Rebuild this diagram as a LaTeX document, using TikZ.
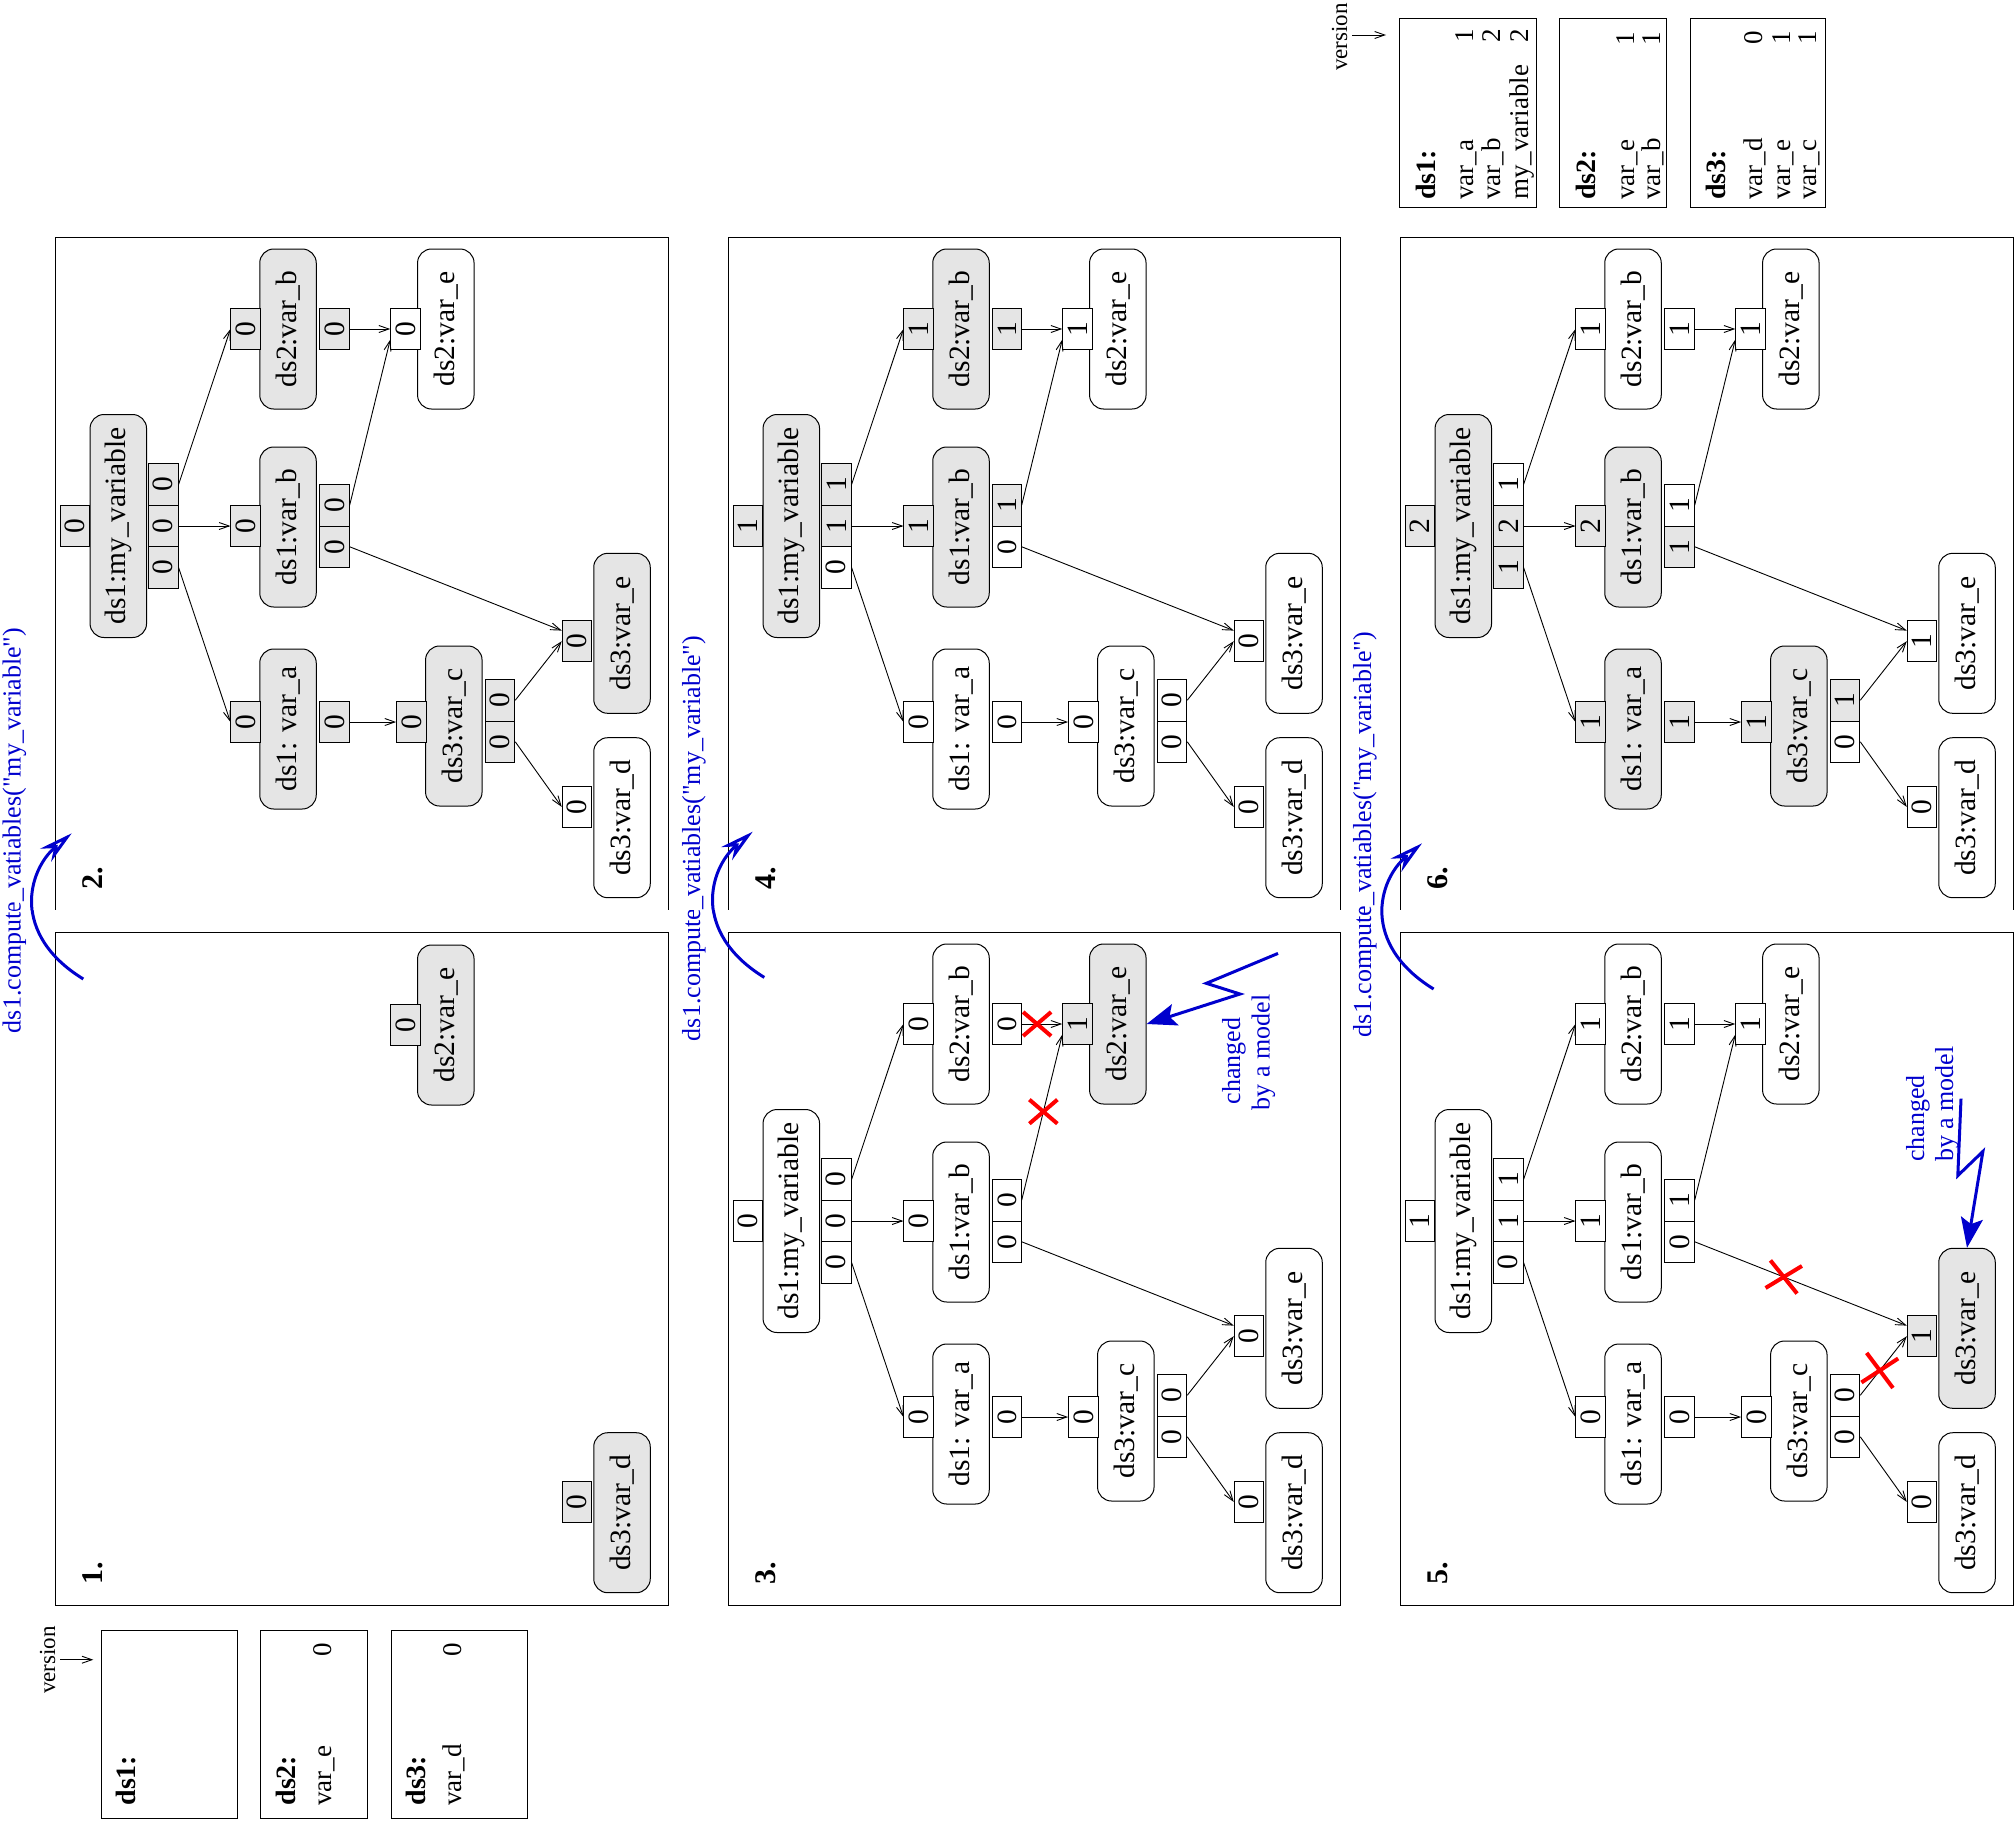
\documentclass[tikz,border=0pt]{standalone}
\usepackage{fontspec}
\setmainfont[Ligatures=TeXOff]{Liberation Serif}
\usepackage{graphicx}
\usetikzlibrary{arrows.meta,calc,shapes.misc}
\definecolor{G}{RGB}{229,229,229}
\definecolor{W}{RGB}{255,255,255}
\definecolor{annblue}{RGB}{0,0,205}
\newcommand\fnN{\fontsize{29.5}{34}\selectfont}
\newcommand\fnT{\fontsize{27}{32}\selectfont}
\newcommand\fnTB{\fontsize{28}{32}\selectfont\bfseries}
\newcommand\fnA{\fontsize{26}{30}\selectfont}
\newcommand\fnV{\fontsize{23}{28}\selectfont}
\newcommand\fnP{\fontsize{30}{34}\selectfont\bfseries}
\tikzset{
  nd/.style={draw, line width=1pt, rounded corners=14pt, minimum width=56.5pt, minimum height=160pt, inner sep=0pt, font=\fnN},
  vb/.style={draw, line width=1pt, minimum width=29.5pt, minimum height=41.5pt, inner sep=0pt, font=\fnN},
  arr/.style={line width=0.9pt, -{Straight Barb[length=10pt,width=7pt]}},
  panelbox/.style={draw, line width=1.3pt, minimum width=613pt, minimum height=673pt, inner sep=0pt, anchor=north west},
  plabel/.style={rotate=90, inner sep=0pt, font=\fnP, anchor=base west},
  txt/.style={rotate=90, inner sep=0pt},
  tbox/.style={draw, line width=1pt, inner sep=0pt, anchor=north west},
  blu/.style={draw=annblue, line width=3pt},
  btxt/.style={rotate=90, inner sep=0pt, font=\fnA, text=annblue},
  xmark/.style={cross out, draw=red, line width=4pt, inner sep=0pt, minimum width=24pt, minimum height=20pt},
}
% value box: name, position, spec (digit + fill colour)
\newcommand\Vb[3]{\expandafter\VbX#3\relax{#1}{#2}}
\def\VbX#1#2\relax#3#4{\node[vb, fill=#2] (#3) at (#4) {\rotatebox{90}{#1}};}
% node fills: mv, ds2b, ds1b, ds1a, ds2e, ds3c, ds3e, ds3d
\newcommand\SetN[8]{\def\Fmv{#1}\def\Fdtb{#2}\def\Fdob{#3}\def\Fdoa{#4}\def\Fdte{#5}\def\Fdhc{#6}\def\Fdhe{#7}\def\Fdhd{#8}}
\newcommand\SetBA[9]{\def\Bmvv{#1}\def\BmvoA{#2}\def\BmvoB{#3}\def\BmvoC{#4}\def\Bdtbl{#5}\def\Bdtbr{#6}\def\Bdobl{#7}\def\BdobrA{#8}\def\BdobrB{#9}}
\newcommand\SetBB[8]{\def\Bdoal{#1}\def\Bdoar{#2}\def\Bdtel{#3}\def\Bdhcl{#4}\def\BdhcrA{#5}\def\BdhcrB{#6}\def\Bdhel{#7}\def\Bdhdl{#8}}
\newcommand\PanelFrame[3]{%
  \node[panelbox] (#1) at #2 {};
  \node[plabel] (#1lab) at ($#2+(47,653)$) {#3};}
\newcommand\DepTree[2]{%
\begin{scope}[shift={#2}]
\node[nd, fill=\Fmv, minimum height=223pt] (#1mv) at (63.3,289) {\rotatebox{90}{ds1:my\_variable}};
\Vb{#1mvv}{19.8,289}{\Bmvv}
\Vb{#1mvoA}{108.3,247.5}{\BmvoA}
\Vb{#1mvoB}{108.3,289}{\BmvoB}
\Vb{#1mvoC}{108.3,330.5}{\BmvoC}
\node[nd, fill=\Fdtb] (#1dtb) at (233,92) {\rotatebox{90}{ds2:var\_b}};
\Vb{#1dtbl}{190.7,92}{\Bdtbl}
\Vb{#1dtbr}{279.4,92}{\Bdtbr}
\node[nd, fill=\Fdob] (#1dob) at (233,290) {\rotatebox{90}{ds1:var\_b}};
\Vb{#1dobl}{190.7,289}{\Bdobl}
\Vb{#1dobrA}{279.4,268.25}{\BdobrA}
\Vb{#1dobrB}{279.4,309.75}{\BdobrB}
\node[nd, fill=\Fdoa] (#1doa) at (233,492) {\rotatebox{90}{ds1: var\_a}};
\Vb{#1doal}{190.7,485}{\Bdoal}
\Vb{#1doar}{279.4,485}{\Bdoar}
\node[nd, fill=\Fdte] (#1dte) at (390.8,92) {\rotatebox{90}{ds2:var\_e}};
\Vb{#1dtel}{350.5,92}{\Bdtel}
\node[nd, fill=\Fdhc] (#1dhc) at (398.8,489) {\rotatebox{90}{ds3:var\_c}};
\Vb{#1dhcl}{356.4,485}{\Bdhcl}
\Vb{#1dhcrA}{445,463.25}{\BdhcrA}
\Vb{#1dhcrB}{445,504.75}{\BdhcrB}
\node[nd, fill=\Fdhe] (#1dhe) at (567,396.3) {\rotatebox{90}{ds3:var\_e}};
\Vb{#1dhel}{522,404.2}{\Bdhel}
\node[nd, fill=\Fdhd] (#1dhd) at (567,580.7) {\rotatebox{90}{ds3:var\_d}};
\Vb{#1dhdl}{522,569.9}{\Bdhdl}
\draw[arr] (#1mvoA.east) -- (#1dtbl.west);
\draw[arr] (#1mvoB.east) -- (#1dobl.west);
\draw[arr] (#1mvoC.east) -- (#1doal.west);
\draw[arr] (#1dtbr.east) -- (#1dtel.west);
\draw[arr] (#1dobrA.east) -- ($(#1dtel.west)!0.5!(#1dtel.south west)$);
\draw[arr] (#1dobrB.east) -- ($(#1dhel.west)!0.5!(#1dhel.north west)$);
\draw[arr] (#1doar.east) -- (#1dhcl.west);
\draw[arr] (#1dhcrA.east) -- (#1dhel.west);
\draw[arr] (#1dhcrB.east) -- (#1dhdl.west);
\end{scope}}
\newcommand\CallArrow[2]{%
\begin{scope}[shift={#2}]
\coordinate (#1s) at (83.3,980);
\coordinate (#1e) at (71.7,833.3);
\draw[blu, -{Stealth[open, length=34pt, width=17pt, inset=11pt]}] (#1s) .. controls (10,935) and (28,870) .. (#1e);
\end{scope}}
\newcommand\CallText{ds1.compute\_vatiables(\symbol{34}my\_variable\symbol{34})}

\begin{document}
\begin{tikzpicture}[x=1pt, y=-1pt]
\useasboundingbox (0,0) rectangle (2017,1821);

% ---------- panel frames ----------
\PanelFrame{P2}{(55,237)}{2.}
\PanelFrame{P4}{(728,237)}{4.}
\PanelFrame{P6}{(1401,237)}{6.}
\PanelFrame{P1}{(55,933)}{1.}
\PanelFrame{P3}{(728,933)}{3.}
\PanelFrame{P5}{(1401,933)}{5.}

% ---------- panel 1 ----------
\begin{scope}[shift={(55,933)}]
\node[nd, fill=G] (p1dte) at (390.8,93) {\rotatebox{90}{ds2:var\_e}};
\node[vb, fill=G] (p1dtel) at (350.5,93) {\rotatebox{90}{0}};
\node[nd, fill=G] (p1dhd) at (567,580.7) {\rotatebox{90}{ds3:var\_d}};
\node[vb, fill=G] (p1dhdl) at (522,569.9) {\rotatebox{90}{0}};
\end{scope}

% ---------- panel 2 ----------
\SetN{G}{G}{G}{G}{W}{G}{G}{W}
\SetBA{0G}{0G}{0G}{0G}{0G}{0G}{0G}{0G}{0G}
\SetBB{0G}{0G}{0W}{0G}{0G}{0G}{0G}{0W}
\DepTree{p2}{(55,237)}

% ---------- panel 3 ----------
\SetN{W}{W}{W}{W}{G}{W}{W}{W}
\SetBA{0W}{0W}{0W}{0W}{0W}{0W}{0W}{0W}{0W}
\SetBB{0W}{0W}{1G}{0W}{0W}{0W}{0W}{0W}
\DepTree{p3}{(728,933)}

% ---------- panel 4 ----------
\SetN{G}{G}{G}{W}{W}{W}{W}{W}
\SetBA{1G}{1G}{1G}{0W}{1G}{1G}{1G}{1G}{0W}
\SetBB{0W}{0W}{1W}{0W}{0W}{0W}{0W}{0W}
\DepTree{p4}{(728,237)}

% ---------- panel 5 ----------
\SetN{W}{W}{W}{W}{W}{W}{G}{W}
\SetBA{1W}{1W}{1W}{0W}{1W}{1W}{1W}{1W}{0W}
\SetBB{0W}{0W}{1W}{0W}{0W}{0W}{1G}{0W}
\DepTree{p5}{(1401,933)}

% ---------- panel 6 ----------
\SetN{G}{W}{G}{G}{W}{G}{W}{W}
\SetBA{2G}{1W}{2G}{1G}{1W}{1W}{2G}{1W}{1G}
\SetBB{1G}{1G}{1W}{1G}{1G}{0W}{1W}{0W}
\DepTree{p6}{(1401,237)}

% ---------- red crosses ----------
\path (p3dtbr.east) -- (p3dtel.west) node[xmark, pos=0.38] (x3a) {};
\path (p3dobrA.east) -- ($(p3dtel.west)!0.5!(p3dtel.south west)$) node[xmark, pos=0.535] (x3b) {};
\path (p5dobrB.east) -- ($(p5dhel.west)!0.5!(p5dhel.north west)$) node[xmark, pos=0.42, rotate=-10, minimum width=28pt, minimum height=24pt] (x5a) {};
\path (p5dhcrA.east) -- (p5dhel.west) node[xmark, pos=0.42, rotate=-10, minimum width=28pt, minimum height=26pt] (x5b) {};

% ---------- compute_variables calls ----------
\CallArrow{ca}{(0,0)}
\CallArrow{cb}{(681,-1.6)}
\CallArrow{cc}{(1351.3,10)}
\node[btxt, anchor=base] (lab1) at (20.5,831) {\CallText};
\node[btxt, anchor=base] (lab2) at (700,839) {\CallText};
\node[btxt, anchor=base] (lab3) at (1372,835) {\CallText};

% ---------- changed by a model ----------
\coordinate (z3a) at (1279,954.4);
\coordinate (z3b) at (1207.3,984.3);
\coordinate (z3c) at (1241,995);
\draw[blu, -{Stealth[length=30pt, width=22pt, inset=6pt]}] (z3a) -- (z3b) -- (z3c) -- (p3dte.east);
\node[btxt, anchor=base] (ch3) at (1241,1062) {changed};
\node[btxt, anchor=base] (bm3) at (1270.5,1053.3) {by a model};

\coordinate (z5a) at (1962,1099.6);
\coordinate (z5b) at (1958.8,1176.6);
\coordinate (z5c) at (1983.9,1152.4);
\draw[blu, -{Stealth[length=30pt, width=22pt, inset=6pt]}] (z5a) -- (z5b) -- (z5c) -- (p5dhe.north);
\node[btxt, anchor=base west] (ch5) at (1925,1163) {changed};
\node[btxt, anchor=base west] (bm5) at (1954,1163) {by a model};

% ---------- version tables, top right ----------
\node[txt, anchor=base west, font=\fnV] (verA) at (1348,71) {version};
\coordinate (vAs) at (1353,35);
\coordinate (vAe) at (1387,35);
\draw[arr] (vAs) -- (vAe);
\node[tbox, minimum width=136.7pt, minimum height=189pt] (tA1) at (1400,18.3) {};
\node[tbox, minimum width=106.7pt, minimum height=189pt] (tA2) at (1560,18.3) {};
\node[tbox, minimum width=135pt, minimum height=189pt] (tA3) at (1690.7,18.3) {};
\node[txt, anchor=base west, font=\fnTB] (tA1h) at (1436.7,200) {ds1:};
\node[txt, anchor=base west, font=\fnT] (tA1a) at (1474,200) {var\_a};
\node[txt, anchor=base east, font=\fnT] (tA1an) at (1474,29) {1};
\node[txt, anchor=base west, font=\fnT] (tA1b) at (1501.7,200) {var\_b};
\node[txt, anchor=base east, font=\fnT] (tA1bn) at (1501.7,29) {2};
\node[txt, anchor=base west, font=\fnT] (tA1c) at (1529,200) {my\_variable};
\node[txt, anchor=base east, font=\fnT] (tA1cn) at (1529,29) {2};
\node[txt, anchor=base west, font=\fnTB] (tA2h) at (1596.7,200) {ds2:};
\node[txt, anchor=base west, font=\fnT] (tA2a) at (1635,200) {var\_e};
\node[txt, anchor=base east, font=\fnT] (tA2an) at (1635,32) {1};
\node[txt, anchor=base west, font=\fnT] (tA2b) at (1661.7,200) {var\_b};
\node[txt, anchor=base east, font=\fnT] (tA2bn) at (1661.7,32) {1};
\node[txt, anchor=base west, font=\fnTB] (tA3h) at (1726.7,200) {ds3:};
\node[txt, anchor=base west, font=\fnT] (tA3a) at (1763,200) {var\_d};
\node[txt, anchor=base east, font=\fnT] (tA3an) at (1763,31) {0};
\node[txt, anchor=base west, font=\fnT] (tA3b) at (1791,200) {var\_e};
\node[txt, anchor=base east, font=\fnT] (tA3bn) at (1791,31) {1};
\node[txt, anchor=base west, font=\fnT] (tA3c) at (1817,200) {var\_c};
\node[txt, anchor=base east, font=\fnT] (tA3cn) at (1817,31) {1};

% ---------- version tables, bottom left ----------
\node[txt, anchor=base west, font=\fnV] (verB) at (55,1695) {version};
\coordinate (vBs) at (60,1660.7);
\coordinate (vBe) at (93.3,1660.7);
\draw[arr] (vBs) -- (vBe);
\node[tbox, minimum width=136.3pt, minimum height=188.6pt] (tB1) at (101,1630.7) {};
\node[tbox, minimum width=107.3pt, minimum height=188.6pt] (tB2) at (260,1630.7) {};
\node[tbox, minimum width=136pt, minimum height=188.6pt] (tB3) at (390.7,1630.7) {};
\node[txt, anchor=base west, font=\fnTB] (tB1h) at (135,1806.7) {ds1:};
\node[txt, anchor=base west, font=\fnTB] (tB2h) at (295,1806.7) {ds2:};
\node[txt, anchor=base west, font=\fnT] (tB2a) at (331.7,1806.7) {var\_e};
\node[txt, anchor=base east, font=\fnT] (tB2an) at (331.7,1644) {0};
\node[txt, anchor=base west, font=\fnTB] (tB3h) at (425,1806.7) {ds3:};
\node[txt, anchor=base west, font=\fnT] (tB3a) at (461.7,1806.7) {var\_d};
\node[txt, anchor=base east, font=\fnT] (tB3an) at (461.7,1644) {0};
\end{tikzpicture}
\end{document}
